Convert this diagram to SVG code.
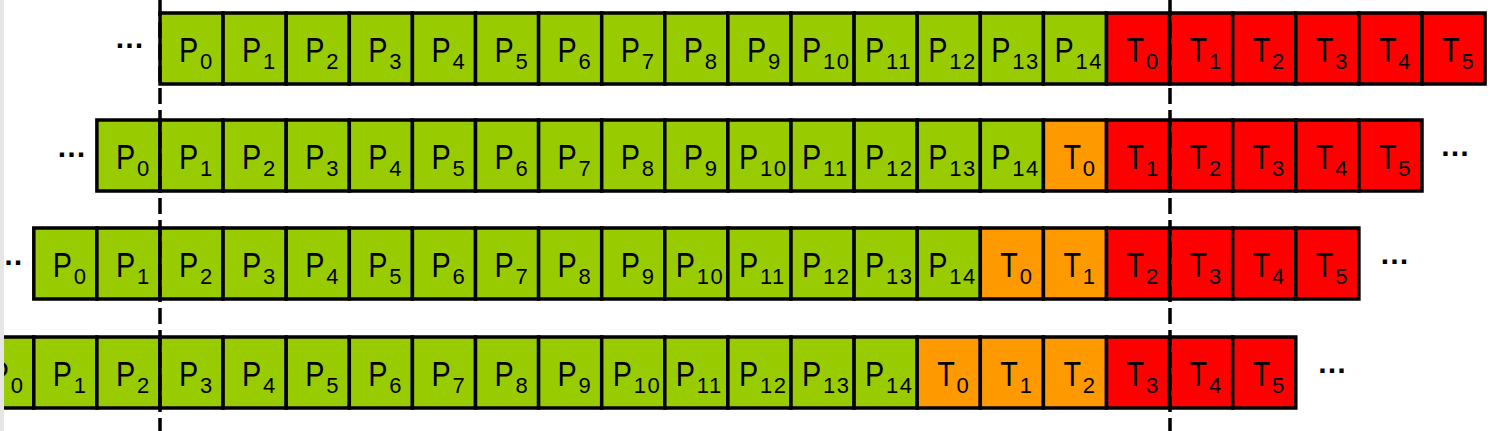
<svg xmlns="http://www.w3.org/2000/svg" width="1500" height="431" viewBox="0 0 1500 431">
<style>
rect.c{stroke:#000;stroke-width:3.5}
.g{fill:#99cc00}.o{fill:#ff9900}.r{fill:#ff0000}
text{font-family:"Liberation Sans",Arial,sans-serif;fill:#000}
.m{font-size:36px}
.s{font-size:22px}
.s2{font-size:22px;letter-spacing:1.5px}
.e{font-size:30px;font-weight:bold;text-anchor:middle}
.dash{stroke:#000;stroke-width:3.5;stroke-dasharray:16 6;fill:none}
</style>
<rect width="1500" height="431" fill="#fff"/>

<!-- Row 1 -->
<g id="row1">
<g id="r1-P0" transform="translate(160,13)"><rect class="c g" width="63.1" height="71"/><text class="m" transform="translate(19,49) scale(0.8,1)">P</text><text class="s" x="40" y="56">0</text></g>
<g id="r1-P1" transform="translate(223.1,13)"><rect class="c g" width="63.1" height="71"/><text class="m" transform="translate(19,49) scale(0.8,1)">P</text><text class="s" x="40" y="56">1</text></g>
<g id="r1-P2" transform="translate(286.2,13)"><rect class="c g" width="63.1" height="71"/><text class="m" transform="translate(19,49) scale(0.8,1)">P</text><text class="s" x="40" y="56">2</text></g>
<g id="r1-P3" transform="translate(349.3,13)"><rect class="c g" width="63.1" height="71"/><text class="m" transform="translate(19,49) scale(0.8,1)">P</text><text class="s" x="40" y="56">3</text></g>
<g id="r1-P4" transform="translate(412.4,13)"><rect class="c g" width="63.1" height="71"/><text class="m" transform="translate(19,49) scale(0.8,1)">P</text><text class="s" x="40" y="56">4</text></g>
<g id="r1-P5" transform="translate(475.5,13)"><rect class="c g" width="63.1" height="71"/><text class="m" transform="translate(19,49) scale(0.8,1)">P</text><text class="s" x="40" y="56">5</text></g>
<g id="r1-P6" transform="translate(538.6,13)"><rect class="c g" width="63.1" height="71"/><text class="m" transform="translate(19,49) scale(0.8,1)">P</text><text class="s" x="40" y="56">6</text></g>
<g id="r1-P7" transform="translate(601.7,13)"><rect class="c g" width="63.1" height="71"/><text class="m" transform="translate(19,49) scale(0.8,1)">P</text><text class="s" x="40" y="56">7</text></g>
<g id="r1-P8" transform="translate(664.8,13)"><rect class="c g" width="63.1" height="71"/><text class="m" transform="translate(19,49) scale(0.8,1)">P</text><text class="s" x="40" y="56">8</text></g>
<g id="r1-P9" transform="translate(727.9,13)"><rect class="c g" width="63.1" height="71"/><text class="m" transform="translate(19,49) scale(0.8,1)">P</text><text class="s" x="40" y="56">9</text></g>
<g id="r1-P10" transform="translate(791,13)"><rect class="c g" width="63.1" height="71"/><text class="m" transform="translate(11,49) scale(0.8,1)">P</text><text class="s2" x="32" y="56">10</text></g>
<g id="r1-P11" transform="translate(854.1,13)"><rect class="c g" width="63.1" height="71"/><text class="m" transform="translate(11,49) scale(0.8,1)">P</text><text class="s2" x="32" y="56">11</text></g>
<g id="r1-P12" transform="translate(917.2,13)"><rect class="c g" width="63.1" height="71"/><text class="m" transform="translate(11,49) scale(0.8,1)">P</text><text class="s2" x="32" y="56">12</text></g>
<g id="r1-P13" transform="translate(980.3,13)"><rect class="c g" width="63.1" height="71"/><text class="m" transform="translate(11,49) scale(0.8,1)">P</text><text class="s2" x="32" y="56">13</text></g>
<g id="r1-P14" transform="translate(1043.4,13)"><rect class="c g" width="63.1" height="71"/><text class="m" transform="translate(11,49) scale(0.8,1)">P</text><text class="s2" x="32" y="56">14</text></g>
<g id="r1-T0" transform="translate(1106.5,13)"><rect class="c r" width="63.1" height="71"/><text class="m" transform="translate(20,49) scale(0.8,1)">T</text><text class="s" x="39.4" y="56">0</text></g>
<g id="r1-T1" transform="translate(1169.6,13)"><rect class="c r" width="63.1" height="71"/><text class="m" transform="translate(20,49) scale(0.8,1)">T</text><text class="s" x="39.4" y="56">1</text></g>
<g id="r1-T2" transform="translate(1232.7,13)"><rect class="c r" width="63.1" height="71"/><text class="m" transform="translate(20,49) scale(0.8,1)">T</text><text class="s" x="39.4" y="56">2</text></g>
<g id="r1-T3" transform="translate(1295.8,13)"><rect class="c r" width="63.1" height="71"/><text class="m" transform="translate(20,49) scale(0.8,1)">T</text><text class="s" x="39.4" y="56">3</text></g>
<g id="r1-T4" transform="translate(1358.9,13)"><rect class="c r" width="63.1" height="71"/><text class="m" transform="translate(20,49) scale(0.8,1)">T</text><text class="s" x="39.4" y="56">4</text></g>
<g id="r1-T5" transform="translate(1422,13)"><rect class="c r" width="63.1" height="71"/><text class="m" transform="translate(20,49) scale(0.8,1)">T</text><text class="s" x="39.4" y="56">5</text></g>
</g>

<!-- Row 2 -->
<g id="row2">
<g id="r2-P0" transform="translate(96.9,120)"><rect class="c g" width="63.1" height="71"/><text class="m" transform="translate(19,49) scale(0.8,1)">P</text><text class="s" x="40" y="56">0</text></g>
<g id="r2-P1" transform="translate(160,120)"><rect class="c g" width="63.1" height="71"/><text class="m" transform="translate(19,49) scale(0.8,1)">P</text><text class="s" x="40" y="56">1</text></g>
<g id="r2-P2" transform="translate(223.1,120)"><rect class="c g" width="63.1" height="71"/><text class="m" transform="translate(19,49) scale(0.8,1)">P</text><text class="s" x="40" y="56">2</text></g>
<g id="r2-P3" transform="translate(286.2,120)"><rect class="c g" width="63.1" height="71"/><text class="m" transform="translate(19,49) scale(0.8,1)">P</text><text class="s" x="40" y="56">3</text></g>
<g id="r2-P4" transform="translate(349.3,120)"><rect class="c g" width="63.1" height="71"/><text class="m" transform="translate(19,49) scale(0.8,1)">P</text><text class="s" x="40" y="56">4</text></g>
<g id="r2-P5" transform="translate(412.4,120)"><rect class="c g" width="63.1" height="71"/><text class="m" transform="translate(19,49) scale(0.8,1)">P</text><text class="s" x="40" y="56">5</text></g>
<g id="r2-P6" transform="translate(475.5,120)"><rect class="c g" width="63.1" height="71"/><text class="m" transform="translate(19,49) scale(0.8,1)">P</text><text class="s" x="40" y="56">6</text></g>
<g id="r2-P7" transform="translate(538.6,120)"><rect class="c g" width="63.1" height="71"/><text class="m" transform="translate(19,49) scale(0.8,1)">P</text><text class="s" x="40" y="56">7</text></g>
<g id="r2-P8" transform="translate(601.7,120)"><rect class="c g" width="63.1" height="71"/><text class="m" transform="translate(19,49) scale(0.8,1)">P</text><text class="s" x="40" y="56">8</text></g>
<g id="r2-P9" transform="translate(664.8,120)"><rect class="c g" width="63.1" height="71"/><text class="m" transform="translate(19,49) scale(0.8,1)">P</text><text class="s" x="40" y="56">9</text></g>
<g id="r2-P10" transform="translate(727.9,120)"><rect class="c g" width="63.1" height="71"/><text class="m" transform="translate(11,49) scale(0.8,1)">P</text><text class="s2" x="32" y="56">10</text></g>
<g id="r2-P11" transform="translate(791,120)"><rect class="c g" width="63.1" height="71"/><text class="m" transform="translate(11,49) scale(0.8,1)">P</text><text class="s2" x="32" y="56">11</text></g>
<g id="r2-P12" transform="translate(854.1,120)"><rect class="c g" width="63.1" height="71"/><text class="m" transform="translate(11,49) scale(0.8,1)">P</text><text class="s2" x="32" y="56">12</text></g>
<g id="r2-P13" transform="translate(917.2,120)"><rect class="c g" width="63.1" height="71"/><text class="m" transform="translate(11,49) scale(0.8,1)">P</text><text class="s2" x="32" y="56">13</text></g>
<g id="r2-P14" transform="translate(980.3,120)"><rect class="c g" width="63.1" height="71"/><text class="m" transform="translate(11,49) scale(0.8,1)">P</text><text class="s2" x="32" y="56">14</text></g>
<g id="r2-T0" transform="translate(1043.4,120)"><rect class="c o" width="63.1" height="71"/><text class="m" transform="translate(20,49) scale(0.8,1)">T</text><text class="s" x="39.4" y="56">0</text></g>
<g id="r2-T1" transform="translate(1106.5,120)"><rect class="c r" width="63.1" height="71"/><text class="m" transform="translate(20,49) scale(0.8,1)">T</text><text class="s" x="39.4" y="56">1</text></g>
<g id="r2-T2" transform="translate(1169.6,120)"><rect class="c r" width="63.1" height="71"/><text class="m" transform="translate(20,49) scale(0.8,1)">T</text><text class="s" x="39.4" y="56">2</text></g>
<g id="r2-T3" transform="translate(1232.7,120)"><rect class="c r" width="63.1" height="71"/><text class="m" transform="translate(20,49) scale(0.8,1)">T</text><text class="s" x="39.4" y="56">3</text></g>
<g id="r2-T4" transform="translate(1295.8,120)"><rect class="c r" width="63.1" height="71"/><text class="m" transform="translate(20,49) scale(0.8,1)">T</text><text class="s" x="39.4" y="56">4</text></g>
<g id="r2-T5" transform="translate(1358.9,120)"><rect class="c r" width="63.1" height="71"/><text class="m" transform="translate(20,49) scale(0.8,1)">T</text><text class="s" x="39.4" y="56">5</text></g>
</g>

<!-- Row 3 -->
<g id="row3">
<g id="r3-P0" transform="translate(33.8,228)"><rect class="c g" width="63.1" height="71"/><text class="m" transform="translate(19,49) scale(0.8,1)">P</text><text class="s" x="40" y="56">0</text></g>
<g id="r3-P1" transform="translate(96.9,228)"><rect class="c g" width="63.1" height="71"/><text class="m" transform="translate(19,49) scale(0.8,1)">P</text><text class="s" x="40" y="56">1</text></g>
<g id="r3-P2" transform="translate(160,228)"><rect class="c g" width="63.1" height="71"/><text class="m" transform="translate(19,49) scale(0.8,1)">P</text><text class="s" x="40" y="56">2</text></g>
<g id="r3-P3" transform="translate(223.1,228)"><rect class="c g" width="63.1" height="71"/><text class="m" transform="translate(19,49) scale(0.8,1)">P</text><text class="s" x="40" y="56">3</text></g>
<g id="r3-P4" transform="translate(286.2,228)"><rect class="c g" width="63.1" height="71"/><text class="m" transform="translate(19,49) scale(0.8,1)">P</text><text class="s" x="40" y="56">4</text></g>
<g id="r3-P5" transform="translate(349.3,228)"><rect class="c g" width="63.1" height="71"/><text class="m" transform="translate(19,49) scale(0.8,1)">P</text><text class="s" x="40" y="56">5</text></g>
<g id="r3-P6" transform="translate(412.4,228)"><rect class="c g" width="63.1" height="71"/><text class="m" transform="translate(19,49) scale(0.8,1)">P</text><text class="s" x="40" y="56">6</text></g>
<g id="r3-P7" transform="translate(475.5,228)"><rect class="c g" width="63.1" height="71"/><text class="m" transform="translate(19,49) scale(0.8,1)">P</text><text class="s" x="40" y="56">7</text></g>
<g id="r3-P8" transform="translate(538.6,228)"><rect class="c g" width="63.1" height="71"/><text class="m" transform="translate(19,49) scale(0.8,1)">P</text><text class="s" x="40" y="56">8</text></g>
<g id="r3-P9" transform="translate(601.7,228)"><rect class="c g" width="63.1" height="71"/><text class="m" transform="translate(19,49) scale(0.8,1)">P</text><text class="s" x="40" y="56">9</text></g>
<g id="r3-P10" transform="translate(664.8,228)"><rect class="c g" width="63.1" height="71"/><text class="m" transform="translate(11,49) scale(0.8,1)">P</text><text class="s2" x="32" y="56">10</text></g>
<g id="r3-P11" transform="translate(727.9,228)"><rect class="c g" width="63.1" height="71"/><text class="m" transform="translate(11,49) scale(0.8,1)">P</text><text class="s2" x="32" y="56">11</text></g>
<g id="r3-P12" transform="translate(791,228)"><rect class="c g" width="63.1" height="71"/><text class="m" transform="translate(11,49) scale(0.8,1)">P</text><text class="s2" x="32" y="56">12</text></g>
<g id="r3-P13" transform="translate(854.1,228)"><rect class="c g" width="63.1" height="71"/><text class="m" transform="translate(11,49) scale(0.8,1)">P</text><text class="s2" x="32" y="56">13</text></g>
<g id="r3-P14" transform="translate(917.2,228)"><rect class="c g" width="63.1" height="71"/><text class="m" transform="translate(11,49) scale(0.8,1)">P</text><text class="s2" x="32" y="56">14</text></g>
<g id="r3-T0" transform="translate(980.3,228)"><rect class="c o" width="63.1" height="71"/><text class="m" transform="translate(20,49) scale(0.8,1)">T</text><text class="s" x="39.4" y="56">0</text></g>
<g id="r3-T1" transform="translate(1043.4,228)"><rect class="c o" width="63.1" height="71"/><text class="m" transform="translate(20,49) scale(0.8,1)">T</text><text class="s" x="39.4" y="56">1</text></g>
<g id="r3-T2" transform="translate(1106.5,228)"><rect class="c r" width="63.1" height="71"/><text class="m" transform="translate(20,49) scale(0.8,1)">T</text><text class="s" x="39.4" y="56">2</text></g>
<g id="r3-T3" transform="translate(1169.6,228)"><rect class="c r" width="63.1" height="71"/><text class="m" transform="translate(20,49) scale(0.8,1)">T</text><text class="s" x="39.4" y="56">3</text></g>
<g id="r3-T4" transform="translate(1232.7,228)"><rect class="c r" width="63.1" height="71"/><text class="m" transform="translate(20,49) scale(0.8,1)">T</text><text class="s" x="39.4" y="56">4</text></g>
<g id="r3-T5" transform="translate(1295.8,228)"><rect class="c r" width="63.1" height="71"/><text class="m" transform="translate(20,49) scale(0.8,1)">T</text><text class="s" x="39.4" y="56">5</text></g>
</g>

<!-- Row 4 -->
<g id="row4">
<g id="r4-P0" transform="translate(-29.3,337)"><rect class="c g" width="63.1" height="71"/><text class="m" transform="translate(19,49) scale(0.8,1)">P</text><text class="s" x="40" y="56">0</text></g>
<g id="r4-P1" transform="translate(33.8,337)"><rect class="c g" width="63.1" height="71"/><text class="m" transform="translate(19,49) scale(0.8,1)">P</text><text class="s" x="40" y="56">1</text></g>
<g id="r4-P2" transform="translate(96.9,337)"><rect class="c g" width="63.1" height="71"/><text class="m" transform="translate(19,49) scale(0.8,1)">P</text><text class="s" x="40" y="56">2</text></g>
<g id="r4-P3" transform="translate(160,337)"><rect class="c g" width="63.1" height="71"/><text class="m" transform="translate(19,49) scale(0.8,1)">P</text><text class="s" x="40" y="56">3</text></g>
<g id="r4-P4" transform="translate(223.1,337)"><rect class="c g" width="63.1" height="71"/><text class="m" transform="translate(19,49) scale(0.8,1)">P</text><text class="s" x="40" y="56">4</text></g>
<g id="r4-P5" transform="translate(286.2,337)"><rect class="c g" width="63.1" height="71"/><text class="m" transform="translate(19,49) scale(0.8,1)">P</text><text class="s" x="40" y="56">5</text></g>
<g id="r4-P6" transform="translate(349.3,337)"><rect class="c g" width="63.1" height="71"/><text class="m" transform="translate(19,49) scale(0.8,1)">P</text><text class="s" x="40" y="56">6</text></g>
<g id="r4-P7" transform="translate(412.4,337)"><rect class="c g" width="63.1" height="71"/><text class="m" transform="translate(19,49) scale(0.8,1)">P</text><text class="s" x="40" y="56">7</text></g>
<g id="r4-P8" transform="translate(475.5,337)"><rect class="c g" width="63.1" height="71"/><text class="m" transform="translate(19,49) scale(0.8,1)">P</text><text class="s" x="40" y="56">8</text></g>
<g id="r4-P9" transform="translate(538.6,337)"><rect class="c g" width="63.1" height="71"/><text class="m" transform="translate(19,49) scale(0.8,1)">P</text><text class="s" x="40" y="56">9</text></g>
<g id="r4-P10" transform="translate(601.7,337)"><rect class="c g" width="63.1" height="71"/><text class="m" transform="translate(11,49) scale(0.8,1)">P</text><text class="s2" x="32" y="56">10</text></g>
<g id="r4-P11" transform="translate(664.8,337)"><rect class="c g" width="63.1" height="71"/><text class="m" transform="translate(11,49) scale(0.8,1)">P</text><text class="s2" x="32" y="56">11</text></g>
<g id="r4-P12" transform="translate(727.9,337)"><rect class="c g" width="63.1" height="71"/><text class="m" transform="translate(11,49) scale(0.8,1)">P</text><text class="s2" x="32" y="56">12</text></g>
<g id="r4-P13" transform="translate(791,337)"><rect class="c g" width="63.1" height="71"/><text class="m" transform="translate(11,49) scale(0.8,1)">P</text><text class="s2" x="32" y="56">13</text></g>
<g id="r4-P14" transform="translate(854.1,337)"><rect class="c g" width="63.1" height="71"/><text class="m" transform="translate(11,49) scale(0.8,1)">P</text><text class="s2" x="32" y="56">14</text></g>
<g id="r4-T0" transform="translate(917.2,337)"><rect class="c o" width="63.1" height="71"/><text class="m" transform="translate(20,49) scale(0.8,1)">T</text><text class="s" x="39.4" y="56">0</text></g>
<g id="r4-T1" transform="translate(980.3,337)"><rect class="c o" width="63.1" height="71"/><text class="m" transform="translate(20,49) scale(0.8,1)">T</text><text class="s" x="39.4" y="56">1</text></g>
<g id="r4-T2" transform="translate(1043.4,337)"><rect class="c o" width="63.1" height="71"/><text class="m" transform="translate(20,49) scale(0.8,1)">T</text><text class="s" x="39.4" y="56">2</text></g>
<g id="r4-T3" transform="translate(1106.5,337)"><rect class="c r" width="63.1" height="71"/><text class="m" transform="translate(20,49) scale(0.8,1)">T</text><text class="s" x="39.4" y="56">3</text></g>
<g id="r4-T4" transform="translate(1169.6,337)"><rect class="c r" width="63.1" height="71"/><text class="m" transform="translate(20,49) scale(0.8,1)">T</text><text class="s" x="39.4" y="56">4</text></g>
<g id="r4-T5" transform="translate(1232.7,337)"><rect class="c r" width="63.1" height="71"/><text class="m" transform="translate(20,49) scale(0.8,1)">T</text><text class="s" x="39.4" y="56">5</text></g>
</g>

<!-- Ellipses -->
<g id="ellipses">
<text class="e" x="129.5" y="48">…</text>
<text class="e" x="71.5" y="157">…</text>
<text class="e" x="1455" y="156">…</text>
<text class="e" x="8.5" y="265">…</text>
<text class="e" x="1394.5" y="264">…</text>
<text class="e" x="1332" y="373">…</text>
</g>

<!-- Dashed reference lines -->
<g id="connectors">
<line class="dash" x1="160" y1="0" x2="160" y2="431"/>
<line class="dash" x1="1170" y1="0" x2="1170" y2="431"/>
</g>

<rect id="edge" x="0" y="0" width="4" height="431" fill="#e6e6e6"/>
</svg>
